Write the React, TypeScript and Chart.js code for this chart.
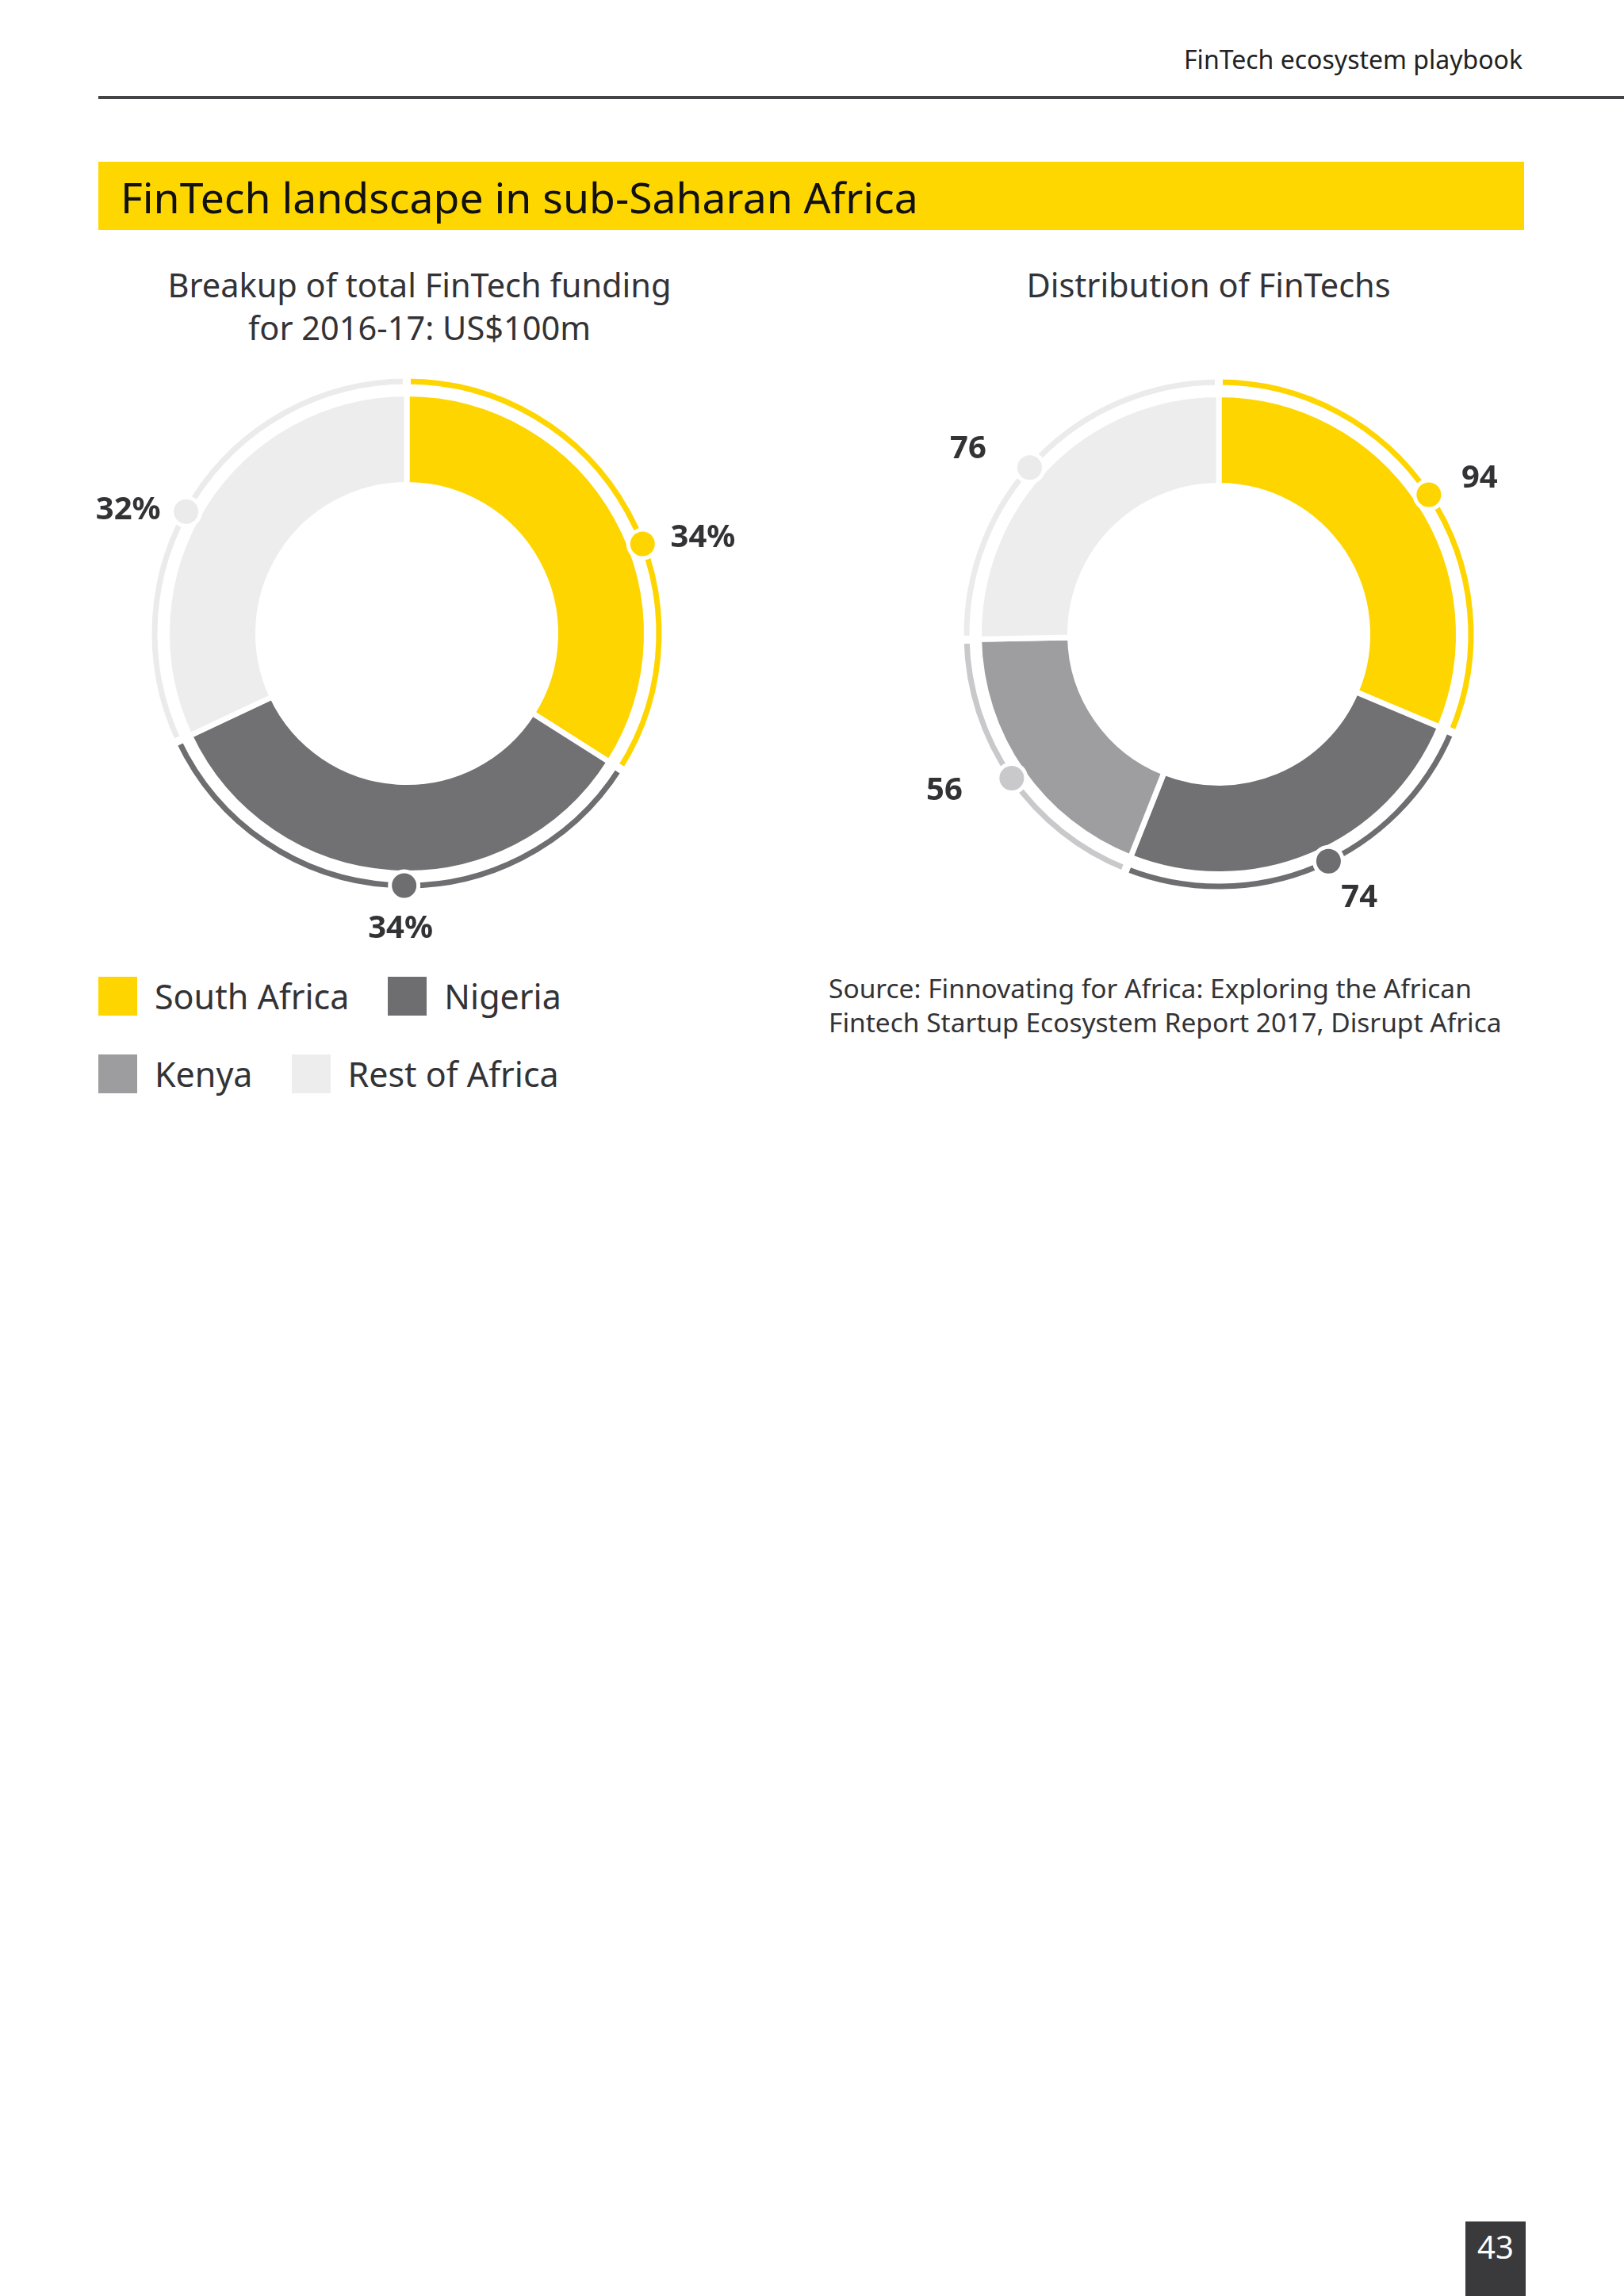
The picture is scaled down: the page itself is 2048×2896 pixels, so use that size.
import React, { useEffect, useRef } from "react";
import { Chart, registerables } from "chart.js";

Chart.register(...registerables);

// ---------- data ----------
const categories = ["South Africa", "Nigeria", "Kenya", "Rest of Africa"];
const fundingShare = [34, 34, 0, 32]; // % of US$100m, 2016-17
const fintechCounts = [94, 74, 56, 76]; // number of FinTechs
const fundingLabels = fundingShare.map((v) => (v > 0 ? `${v}%` : ""));
const countLabels = fintechCounts.map((v) => `${v}`);

// ---------- styles ----------
const segmentColors = ["#FFD500", "#717073", "#9e9da0", "#ededee"];
const ringColors = ["#FFD500", "#6e6d70", "#c9c8cb", "#ebebec"];
const legendColors = ["#FFD500", "#6e6d70", "#9d9d9f", "#ededee"];
const TEXT = "#333336";
const FONT = "'Noto Sans', 'DejaVu Sans', sans-serif";

// label placement relative to each marker dot: direction (deg) and distance (px)
type DotCfg = { texts: string[]; shifts: number[]; labelDir: number[]; labelDist: number[] };
const leftCfg: DotCfg = {
  texts: fundingLabels,
  shifts: [8, -3, 0, -3.5],
  labelDir: [-8, 95, 0, 184],
  labelDist: [77, 52, 0, 73],
};
const rightCfg: DotCfg = {
  texts: countLabels,
  shifts: [0, -3, 0, -3],
  labelDir: [-20, 48, 171, 199],
  labelDist: [68, 58, 86, 82],
};

const makeDotPlugin = (cfg: DotCfg) => ({
  id: "ringDots",
  afterDatasetsDraw(chart: any) {
    const meta = chart.getDatasetMeta(0);
    const ctx: CanvasRenderingContext2D = chart.ctx;
    ctx.save();
    ctx.font = `bold 40px ${FONT}`;
    const capH = 29;
    meta.data.forEach((el: any, i: number) => {
      const p = el.getProps(["x", "y", "startAngle", "endAngle", "innerRadius", "outerRadius"], true);
      if (p.endAngle - p.startAngle < 1e-6) return;
      const a = (p.startAngle + p.endAngle) / 2 + (cfg.shifts[i] * Math.PI) / 180;
      const r = (p.innerRadius + p.outerRadius) / 2;
      const cx = p.x + Math.cos(a) * r;
      const cy = p.y + Math.sin(a) * r;
      ctx.beginPath();
      ctx.arc(cx, cy, 20.5, 0, Math.PI * 2);
      ctx.fillStyle = "#ffffff";
      ctx.fill();
      ctx.beginPath();
      ctx.arc(cx, cy, 15.5, 0, Math.PI * 2);
      ctx.fillStyle = ringColors[i];
      ctx.fill();
      const txt = cfg.texts[i];
      if (!txt) return;
      const la = (cfg.labelDir[i] * Math.PI) / 180;
      const lx = cx + Math.cos(la) * cfg.labelDist[i];
      const ly = cy + Math.sin(la) * cfg.labelDist[i];
      ctx.fillStyle = TEXT;
      ctx.textAlign = "center";
      ctx.textBaseline = "alphabetic";
      ctx.fillText(txt, lx, ly + capH / 2);
    });
    ctx.restore();
  },
});

const makeConfig = (values: number[], cfg: DotCfg): any => ({
  type: "doughnut",
  data: {
    labels: categories,
    datasets: [
      {
        data: values,
        backgroundColor: ringColors,
        borderColor: "#ffffff",
        borderWidth: 10,
        weight: 17,
        hoverOffset: 0,
        offset: 0,
      },
      {
        data: [1],
        backgroundColor: "rgba(0,0,0,0)",
        borderWidth: 0,
        weight: 7,
        hoverOffset: 0,
      },
      {
        data: values,
        backgroundColor: segmentColors,
        borderColor: "#ffffff",
        borderWidth: 7,
        weight: 115,
        hoverOffset: 0,
        offset: 0,
      },
    ],
  },
  options: {
    responsive: false,
    animation: false,
    events: [],
    radius: 326.5,
    cutout: "57.43%",
    layout: { padding: 0 },
    plugins: { legend: { display: false }, tooltip: { enabled: false }, title: { display: false } },
  },
  plugins: [makeDotPlugin(cfg)],
});

const CW = 840;
const CH = 800;

function Donut({ cx, cy, values, cfg }: { cx: number; cy: number; values: number[]; cfg: DotCfg }) {
  const ref = useRef<HTMLCanvasElement | null>(null);
  useEffect(() => {
    if (!ref.current) return;
    const chart = new Chart(ref.current, makeConfig(values, cfg));
    return () => chart.destroy();
  }, []);
  return (
    <canvas
      ref={ref}
      width={CW}
      height={CH}
      style={{ position: "absolute", left: cx - CW / 2, top: cy - CH / 2, width: CW, height: CH }}
    />
  );
}

const abs = (o: React.CSSProperties): React.CSSProperties => ({ position: "absolute", ...o });

export default function App() {
  useEffect(() => {
    document.body.style.margin = "0";
    document.body.style.background = "#ffffff";
  }, []);
  return (
    <div
      style={{
        position: "relative",
        width: 2048,
        height: 2896,
        overflow: "hidden",
        background: "#ffffff",
        fontFamily: FONT,
        color: TEXT,
      }}
    >
      {/* running header */}
      <div style={abs({ right: 128, top: 59, fontSize: 32, lineHeight: "32px", color: "#222", whiteSpace: "nowrap" })}>
        FinTech ecosystem playbook
      </div>
      <div style={abs({ left: 124, top: 121, width: 1924, height: 4, background: "#444446" })} />

      {/* banner */}
      <div style={abs({ left: 124, top: 204, width: 1798, height: 86, background: "#FFD700" })}>
        <div style={abs({ left: 28, top: 18, fontSize: 53.5, lineHeight: "54px", color: "#111", whiteSpace: "nowrap" })}>
          FinTech landscape in sub-Saharan Africa
        </div>
      </div>

      {/* chart titles */}
      <div
        style={abs({ left: 129, top: 332, width: 800, textAlign: "center", fontSize: 41.5, lineHeight: "54px", whiteSpace: "nowrap" })}
      >
        Breakup of total FinTech funding
        <br />
        for 2016-17: US$100m
      </div>
      <div
        style={abs({ left: 1124, top: 332, width: 800, textAlign: "center", fontSize: 41.5, lineHeight: "54px", whiteSpace: "nowrap" })}
      >
        Distribution of FinTechs
      </div>

      <Donut cx={513} cy={799} values={fundingShare} cfg={leftCfg} />
      <Donut cx={1537} cy={800} values={fintechCounts} cfg={rightCfg} />

      {/* legend */}
      <div
        style={abs({
          left: 124,
          top: 1232,
          width: 620,
          display: "flex",
          flexWrap: "wrap",
          columnGap: 49,
          rowGap: 49,
          fontSize: 43,
          lineHeight: "49px",
        })}
      >
        {categories.map((c, i) => (
          <div key={c} style={{ display: "flex", alignItems: "center", whiteSpace: "nowrap" }}>
            <span style={{ display: "inline-block", width: 49, height: 49, background: legendColors[i], marginRight: 22 }} />
            <span>{c}</span>
          </div>
        ))}
      </div>

      {/* source */}
      <div style={abs({ left: 1045, top: 1225, fontSize: 33.5, lineHeight: "43px", whiteSpace: "nowrap" })}>
        Source: Finnovating for Africa: Exploring the African
        <br />
        Fintech Startup Ecosystem Report 2017, Disrupt Africa
      </div>

      {/* page number */}
      <div
        style={abs({
          left: 1848,
          top: 2802,
          width: 76,
          height: 94,
          background: "#3a393c",
          color: "#ffffff",
          fontSize: 40,
          lineHeight: "40px",
          textAlign: "center",
        })}
      >
        <div style={{ paddingTop: 12 }}>43</div>
      </div>
    </div>
  );
}
